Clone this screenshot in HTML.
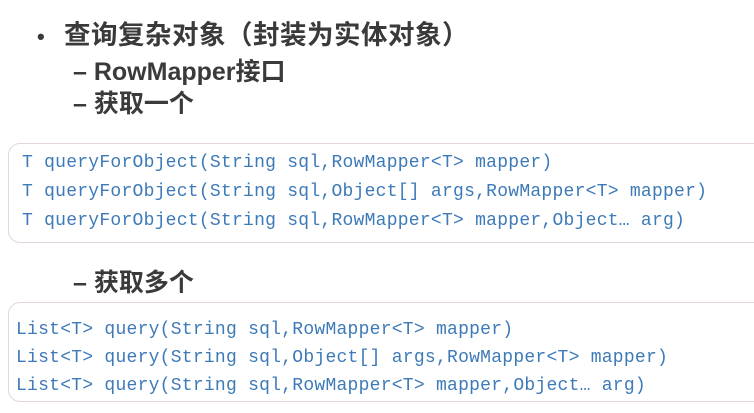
<!DOCTYPE html>
<html><head><meta charset="utf-8"><style>
body{margin:0;width:754px;height:413px;background:#fff;position:relative;overflow:hidden;font-family:"Liberation Sans","Noto Sans CJK SC",sans-serif;}
.t{position:absolute;color:#3a3a3a;font-weight:bold;font-size:24px;white-space:nowrap;line-height:1;}
.box{position:absolute;border:1.5px solid #e2d6d6;border-radius:12px;background:#fff;}
.c{position:absolute;left:22px;color:#3d7ab8;font-family:"Liberation Mono","Noto Sans CJK SC",monospace;font-size:18px;letter-spacing:0.25px;white-space:pre;line-height:1;}
</style></head><body>
<div class="t" style="left:37px;top:26px;font-size:22px">•</div>
<div class="t" style="left:64px;top:22px;font-size:26.5px;letter-spacing:0.5px">查询复杂对象（封装为实体对象）</div>
<div class="t" style="left:73px;top:60px;font-size:25px">– RowMapper接口</div>
<div class="t" style="left:73px;top:92px;font-size:25px">– 获取一个</div>
<div class="box" style="left:8px;top:143px;width:760px;height:98px"></div>
<div class="c" style="top:154px">T queryForObject(String sql,RowMapper&lt;T&gt; mapper)</div>
<div class="c" style="top:183px">T queryForObject(String sql,Object[] args,RowMapper&lt;T&gt; mapper)</div>
<div class="c" style="top:212px">T queryForObject(String sql,RowMapper&lt;T&gt; mapper,Object… arg)</div>
<div class="t" style="left:73px;top:271px;font-size:25px">– 获取多个</div>
<div class="box" style="left:8px;top:302px;width:760px;height:98px"></div>
<div class="c" style="left:16px;top:321px">List&lt;T&gt; query(String sql,RowMapper&lt;T&gt; mapper)</div>
<div class="c" style="left:16px;top:349px">List&lt;T&gt; query(String sql,Object[] args,RowMapper&lt;T&gt; mapper)</div>
<div class="c" style="left:16px;top:377px">List&lt;T&gt; query(String sql,RowMapper&lt;T&gt; mapper,Object… arg)</div>
</body></html>
